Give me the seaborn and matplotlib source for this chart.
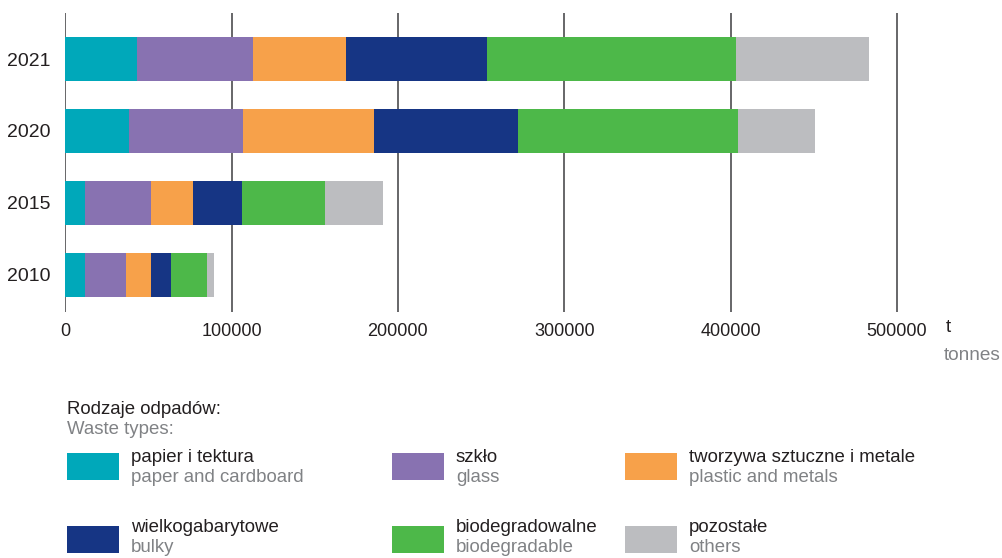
import numpy as np
import pandas as pd
import matplotlib
matplotlib.use("Agg")
import matplotlib.pyplot as plt
from matplotlib.patches import Rectangle
import seaborn as sns

years = ["2021", "2020", "2015", "2010"]
papier = [43100, 38300, 11800, 11800]
szklo = [69800, 68600, 39700, 24700]
tworzywa = [55900, 78700, 25300, 15000]
wielkogabarytowe = [84800, 86600, 29500, 12100]
biodegradowalne = [149700, 132300, 49900, 21600]
pozostale = [80000, 46300, 34800, 4200]

labels_pl = ["papier i tektura", "szkło", "tworzywa sztuczne i metale",
             "wielkogabarytowe", "biodegradowalne", "pozostałe"]
labels_en = ["paper and cardboard", "glass", "plastic and metals",
             "bulky", "biodegradable", "others"]
colors = ["#00A8BA", "#8872B1", "#F7A14A", "#163584", "#4DB849", "#BCBDC0"]
xticks = [0, 100000, 200000, 300000, 400000, 500000]

sns.set_theme(style="white")
plt.rcParams["font.family"] = ["Liberation Sans", "DejaVu Sans"]

series = [papier, szklo, tworzywa, wielkogabarytowe, biodegradowalne, pozostale]
cum = np.cumsum(np.array(series), axis=0)

fig = plt.figure(figsize=(10.02, 5.58), dpi=100)
W, H = 1002, 558
x0, x1 = 65.3, 65.3 + 530 * 1.663
ax = fig.add_axes([x0 / W, 1 - 312 / H, (x1 - x0) / W, (312 - 13) / H])

# stacked bars: draw cumulative totals from the outermost segment inwards
for i in reversed(range(len(series))):
    df = pd.DataFrame({"year": years, "value": cum[i]})
    sns.barplot(data=df, x="value", y="year", order=years, color=colors[i],
                orient="h", width=0.61, saturation=1, linewidth=0,
                edgecolor="none", ax=ax, zorder=2)

ax.set_xlim(0, 530000)
ax.set_ylim(3.52, -0.64)
ax.set_xticks(xticks)
ax.set_xticklabels([str(v) for v in xticks])
for v in xticks:
    ax.axvline(v, color="#4D4D4F", lw=1.2, zorder=1)
for s in ax.spines.values():
    s.set_visible(False)
ax.set_xlabel("")
ax.set_ylabel("")
ax.tick_params(axis="both", length=0, colors="#231F20")
ax.tick_params(axis="x", pad=8, labelsize=13)
ax.tick_params(axis="y", pad=10.5, labelsize=14)

grey = "#808285"
dark = "#231F20"
fs = 13.4
fig.text(946 / W, 1 - 328 / H, "t", fontsize=13.5, color=dark, va="center", ha="left")
fig.text(1000 / W, 1 - 355 / H, "tonnes", fontsize=13.7, color=grey, va="center", ha="right")

fig.text(67 / W, 1 - 410 / H, "Rodzaje odpadów:", fontsize=fs, color=dark, va="center")
fig.text(67 / W, 1 - 430 / H, "Waste types:", fontsize=fs, color=grey, va="center")

col_x = [67, 392, 625]
row_y = [453, 526]
text_off = [5, 2]
for k in range(6):
    r, c = divmod(k, 3)
    px, py = col_x[c], row_y[r]
    fig.add_artist(Rectangle((px / W, 1 - (py + 27) / H), 52 / W, 27 / H,
                             transform=fig.transFigure, facecolor=colors[k],
                             edgecolor="none"))
    fig.text((px + 64) / W, 1 - (py + text_off[r]) / H, labels_pl[k], fontsize=fs,
             color=dark, va="center")
    fig.text((px + 64) / W, 1 - (py + text_off[r] + 20) / H, labels_en[k], fontsize=fs,
             color=grey, va="center")

fig.savefig("out.png", dpi=100)
